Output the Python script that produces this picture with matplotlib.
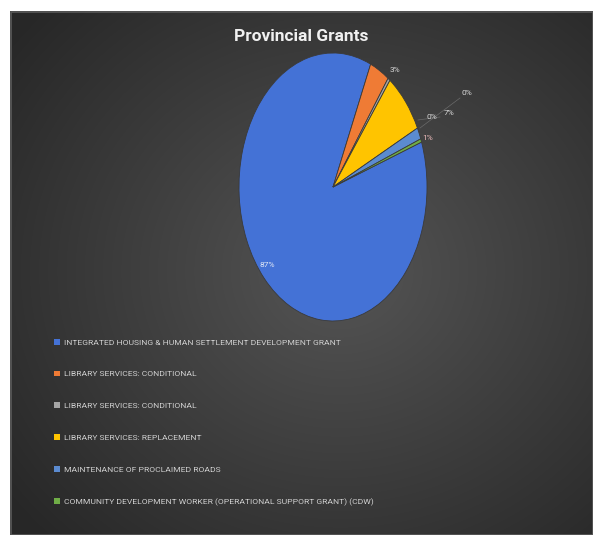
import numpy as np
import matplotlib
matplotlib.use("Agg")
import matplotlib.pyplot as plt
from matplotlib.patches import Patch, Rectangle

# Provincial grant shares (percent of total)
grants = [
    "INTEGRATED HOUSING & HUMAN SETTLEMENT DEVELOPMENT GRANT",
    "LIBRARY SERVICES: CONDITIONAL",
    "LIBRARY SERVICES: CONDITIONAL",
    "LIBRARY SERVICES: REPLACEMENT",
    "MAINTENANCE OF PROCLAIMED ROADS",
    "COMMUNITY DEVELOPMENT WORKER (OPERATIONAL SUPPORT GRANT) (CDW)",
]
shares = [87.0, 3.4, 0.4, 7.4, 1.4, 0.4]
colors = ["#4472D6", "#EF7B35", "#A5A5A5", "#FFC400", "#5B8BD0", "#70AD47"]

# label anchor points in figure pixels (x from left, y from top)
label_px = [(267, 265), (395, 70), (467, 93), (449, 113), (428, 138), (432, 117)]
label_colors = ["#dfe6f5", "#d9d9d9", "#d9d9d9", "#d9d9d9", "#e8b8b8", "#d9d9d9"]

W, H = 597, 535
fig = plt.figure(figsize=(W / 100, H / 100), dpi=100)
fig.patch.set_facecolor("white")

# dark panel with radial shading
bg = fig.add_axes([10 / W, 0, 583 / W, 524 / H])
bg.set_axis_off()
yy, xx = np.mgrid[0:524, 0:583]
r = np.hypot((xx - 330) / 420.0, (yy - 260) / 380.0)
r = np.clip(r, 0, 1)
inner = np.array([0x55, 0x55, 0x55]) / 255
outer = np.array([0x27, 0x27, 0x27]) / 255
img = inner[None, None, :] * (1 - r[..., None]) + outer[None, None, :] * r[..., None]
bg.imshow(img, aspect="auto", interpolation="bilinear")
bg.add_patch(Rectangle((0, 0), 582, 523, fill=False, edgecolor="#5a5a5a", lw=1.2))

# elliptical pie
left, right, top, bottom = 239, 427, 53, 321
ax = fig.add_axes([left / W, 1 - bottom / H, (right - left) / W, (bottom - top) / H])
wedges, _ = ax.pie(shares, colors=colors, startangle=19.6, counterclock=False,
                   wedgeprops=dict(edgecolor="#3a3a3a", linewidth=0.6))
ax.set_aspect("auto")
ax.set_xlim(-1, 1)
ax.set_ylim(-1, 1)
ax.set_axis_off()

total = sum(shares)
for v, (px, py), c in zip(shares, label_px, label_colors):
    fig.text(px / W, 1 - py / H, f"{v / total * 100:.0f}%", ha="center", va="center",
             fontsize=6, color=c, family="Roboto")

# faint leader lines to the outer labels
for (x0, y0), (x1, y1) in [((420, 128), (460, 98)), ((418, 120), (440, 117))]:
    fig.add_artist(plt.Line2D([x0 / W, x1 / W], [1 - y0 / H, 1 - y1 / H],
                              color="#6a6a6a", lw=0.5))

fig.text(301 / W, 1 - 37 / H, "Provincial Grants", ha="center", va="center",
         fontsize=12.5, fontweight="bold", color="#f0f0f0", family="Roboto")

handles = [Patch(facecolor=c, edgecolor="none") for c in colors]
fig.legend(handles, grants, loc="upper left", bbox_to_anchor=(46 / W, 1 - 331 / H),
           frameon=False, labelcolor="#d0d0d0", labelspacing=2.95,
           handlelength=0.7, handleheight=0.7, handletextpad=0.5,
           prop=dict(family="Roboto", size=6.1))

fig.savefig("out.png", dpi=100, facecolor=fig.get_facecolor())
